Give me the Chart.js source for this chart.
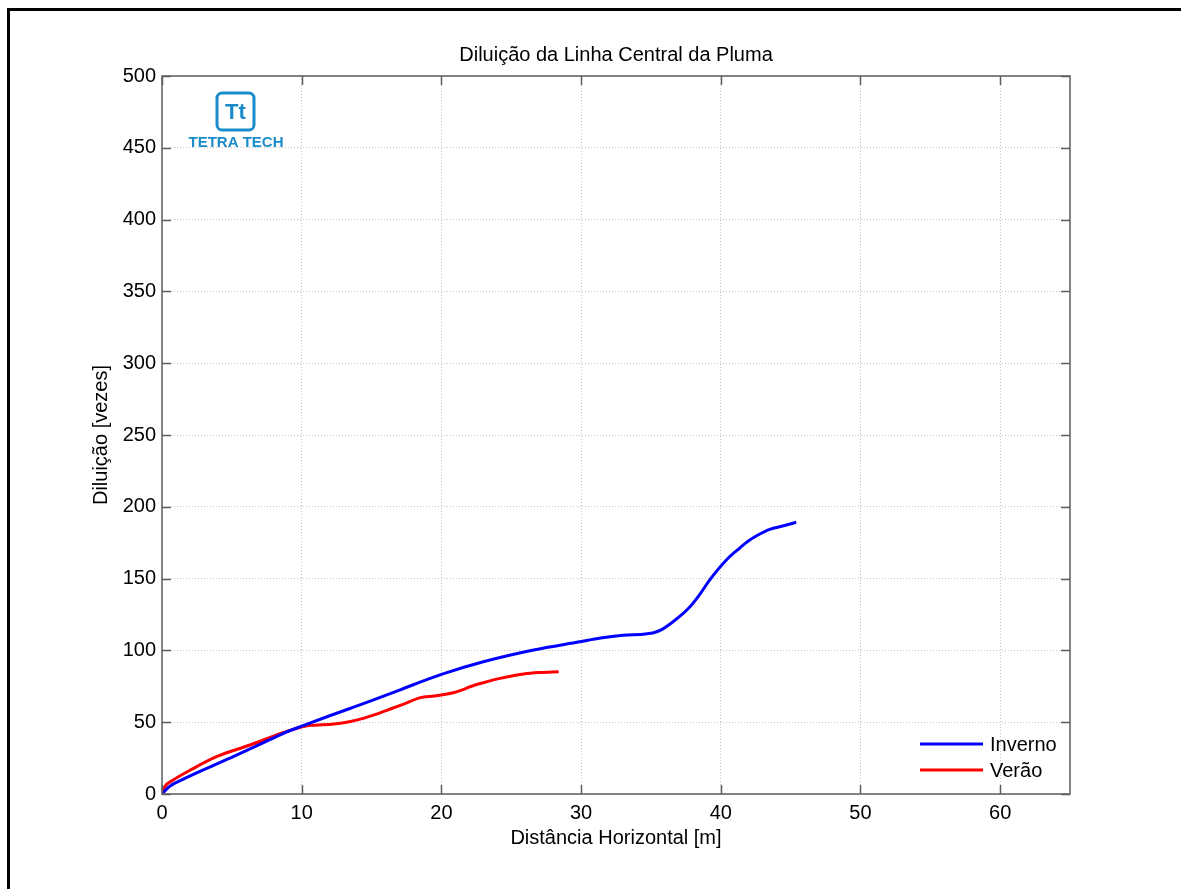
<!DOCTYPE html>
<html lang="pt">
<head>
<meta charset="utf-8">
<title>Diluição da Linha Central da Pluma</title>
<script src="https://cdn.jsdelivr.net/npm/chart.js@4/dist/chart.umd.min.js"></script>
<style>
  html, body { margin: 0; padding: 0; background: #fff; }
  canvas { display: block; }
</style>
</head>
<body>
<canvas id="chart" width="1181" height="889"></canvas>
<script>
// distância horizontal [m] e diluição [vezes] ao longo da linha central
const invernoX = [0, 0.5, 1.5, 3, 5.1, 7, 8.7, 10.1, 12, 13.5, 15, 17, 20, 23, 26.6, 29.9, 31.4, 33, 34.6, 35.2, 35.8, 36.4, 37.1, 37.8, 38.5, 39.2, 40.4, 41.2, 41.9, 42.6, 43.5, 44.5, 45.4];
const invernoY = [0, 5, 10.2, 17, 26, 34.5, 42.3, 47.6, 54.5, 59.7, 65, 72.4, 83.3, 92.1, 100.3, 106, 108.6, 110.5, 111.5, 112.3, 114.6, 118.6, 124, 130.4, 139, 149, 163, 170, 175.7, 180, 184.3, 186.8, 189.2];
const veraoX = [0, 0.2, 0.8, 2, 3.9, 6.3, 8.7, 10.3, 11, 12.3, 13.5, 14.4, 15.3, 16.3, 17.4, 18.5, 19.5, 20.85, 21.5, 22.05, 23, 24.2, 25.9, 27, 28.4];
const veraoY = [0, 5, 9.7, 16.5, 26, 34.1, 42.8, 47.4, 47.9, 48.7, 50.5, 52.7, 55.5, 59, 63, 67.1, 68.3, 70.5, 72.5, 74.7, 77.5, 80.5, 83.6, 84.6, 85.2];

const seriesLabels = ['Inverno', 'Verão'];
const xTicks = [0, 10, 20, 30, 40, 50, 60];
const yTicks = [0, 50, 100, 150, 200, 250, 300, 350, 400, 450, 500];

const FONT = '"Liberation Sans", Arial, Helvetica, sans-serif';

function toPoints(xs, ys) {
  return xs.map((x, i) => ({ x: x, y: ys[i] }));
}

// moldura, marcas internas, títulos, legenda e logotipo
const decorations = {
  id: 'decorations',
  afterDraw(chart) {
    const ctx = chart.ctx;
    const a = chart.chartArea;
    const xs = chart.scales.x;
    const ys = chart.scales.y;
    ctx.save();

    // eixos em caixa
    ctx.strokeStyle = '#5e5e5e';
    ctx.lineWidth = 1.5;
    ctx.strokeRect(a.left, a.top, a.right - a.left, a.bottom - a.top);
    ctx.beginPath();
    xTicks.forEach(v => {
      const px = Math.round(xs.getPixelForValue(v)) + 0.5;
      ctx.moveTo(px, a.bottom); ctx.lineTo(px, a.bottom - 9);
      ctx.moveTo(px, a.top); ctx.lineTo(px, a.top + 9);
    });
    yTicks.forEach(v => {
      const py = Math.round(ys.getPixelForValue(v)) + 0.5;
      ctx.moveTo(a.left, py); ctx.lineTo(a.left + 9, py);
      ctx.moveTo(a.right, py); ctx.lineTo(a.right - 9, py);
    });
    ctx.stroke();

    // títulos
    ctx.fillStyle = '#000';
    ctx.font = '20px ' + FONT;
    ctx.textAlign = 'center';
    ctx.textBaseline = 'middle';
    const cx = (a.left + a.right) / 2;
    ctx.fillText('Diluição da Linha Central da Pluma', cx, 55);
    ctx.fillText('Distância Horizontal [m]', cx, 838);
    ctx.save();
    ctx.translate(101, (a.top + a.bottom) / 2);
    ctx.rotate(-Math.PI / 2);
    ctx.fillText('Diluição [vezes]', 0, 0);
    ctx.restore();

    // legenda
    ctx.textAlign = 'left';
    ctx.font = '20px ' + FONT;
    chart.data.datasets.forEach((ds, i) => {
      const ly = 744 + i * 26;
      ctx.strokeStyle = ds.borderColor;
      ctx.lineWidth = 3;
      ctx.beginPath();
      ctx.moveTo(920, ly); ctx.lineTo(983, ly);
      ctx.stroke();
      ctx.fillStyle = '#000';
      ctx.fillText(ds.label, 990, ly + 1);
    });

    // logotipo
    const blue = '#1b8ccb';
    ctx.strokeStyle = blue;
    ctx.lineWidth = 3;
    const bx = 217, by = 93, bw = 37, r = 5;
    ctx.beginPath();
    ctx.moveTo(bx + r, by);
    ctx.arcTo(bx + bw, by, bx + bw, by + bw, r);
    ctx.arcTo(bx + bw, by + bw, bx, by + bw, r);
    ctx.arcTo(bx, by + bw, bx, by, r);
    ctx.arcTo(bx, by, bx + bw, by, r);
    ctx.closePath();
    ctx.stroke();
    ctx.fillStyle = blue;
    ctx.font = 'bold 22px ' + FONT;
    ctx.textAlign = 'center';
    ctx.fillText('Tt', bx + bw / 2, by + bw / 2 + 1);
    ctx.font = 'bold 15px ' + FONT;
    ctx.fillText('TETRA TECH', 236, 143);

    // moldura da figura
    ctx.strokeStyle = '#000';
    ctx.lineWidth = 3;
    ctx.beginPath();
    ctx.moveTo(1181, 9.5); ctx.lineTo(8.5, 9.5); ctx.lineTo(8.5, 889);
    ctx.stroke();

    ctx.restore();
  }
};

new Chart(document.getElementById('chart'), {
  type: 'scatter',
  data: {
    datasets: [
      {
        label: seriesLabels[0],
        data: toPoints(invernoX, invernoY),
        borderColor: '#0000ff',
        backgroundColor: '#0000ff'
      },
      {
        label: seriesLabels[1],
        data: toPoints(veraoX, veraoY),
        borderColor: '#ff0000',
        backgroundColor: '#ff0000'
      }
    ]
  },
  options: {
    responsive: false,
    animation: false,
    showLine: true,
    layout: { padding: { left: 0, top: 76, right: 111, bottom: 0 } },
    elements: {
      point: { radius: 0, hoverRadius: 0 },
      line: { borderWidth: 3, cubicInterpolationMode: 'monotone' }
    },
    plugins: {
      legend: { display: false },
      title: { display: false },
      tooltip: { enabled: false }
    },
    scales: {
      x: {
        type: 'linear',
        min: 0,
        max: 65,
        afterFit(scale) { scale.height = 95; },
        afterBuildTicks(scale) { scale.ticks = xTicks.map(v => ({ value: v })); },
        ticks: {
          color: '#000',
          font: { family: FONT, size: 20 },
          padding: 7,
          maxRotation: 0
        },
        grid: { color: '#c4c4c4', lineWidth: 1, drawTicks: false },
        border: { display: false, dash: [1, 2] }
      },
      y: {
        type: 'linear',
        min: 0,
        max: 500,
        afterFit(scale) { scale.width = 162; },
        afterBuildTicks(scale) { scale.ticks = yTicks.map(v => ({ value: v })); },
        ticks: {
          color: '#000',
          font: { family: FONT, size: 20 },
          padding: 6
        },
        grid: { color: '#c4c4c4', lineWidth: 1, drawTicks: false },
        border: { display: false, dash: [1, 2] }
      }
    }
  },
  plugins: [decorations]
});
</script>
</body>
</html>
